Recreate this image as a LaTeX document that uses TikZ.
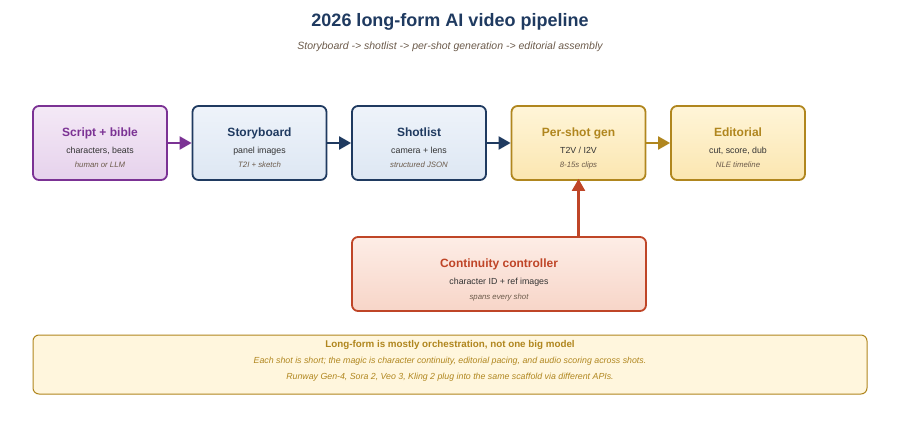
\documentclass[tikz,border=0pt]{standalone}
\usepackage{fontspec}
\setmainfont{Liberation Sans}
\usetikzlibrary{arrows.meta}
\definecolor{pur}{HTML}{7B3294}\definecolor{purA}{HTML}{F4E9F6}\definecolor{purB}{HTML}{E6D2EC}
\definecolor{nav}{HTML}{1F3A60}\definecolor{navA}{HTML}{EEF3FA}\definecolor{navB}{HTML}{DDE7F3}
\definecolor{gol}{HTML}{B0861E}\definecolor{golA}{HTML}{FFF5D8}\definecolor{golB}{HTML}{FBE6B0}
\definecolor{red}{HTML}{BF4527}\definecolor{redA}{HTML}{FDEDE6}\definecolor{redB}{HTML}{F7D5C8}
\definecolor{txt}{HTML}{333333}\definecolor{sub}{HTML}{6B5A4A}\definecolor{noteA}{HTML}{FFF6DD}
\tikzset{
 box/.style={draw=#1,line width=1.8pt,rounded corners=6pt,top color=#1A,bottom color=#1B,minimum width=134pt,minimum height=74pt},
 t/.style={text height=8pt,text depth=2pt,inner sep=0pt},
 ttl/.style={t,font=\fontsize{12}{12}\selectfont\bfseries},
 l2/.style={t,font=\fontsize{8.8}{9}\selectfont,text=txt},
 l3/.style={t,font=\fontsize{7.8}{8}\selectfont\itshape,text=sub},
 arr/.style={line width=2.2pt,-{Triangle[length=12pt,width=13pt]}}
}
\newcommand\mybox[7]{%
 \node[box=#3] (#1) at (#2,143) {};
 \node[ttl,text=#3] (#1t) at (#2,133) {#4};
 \node[l2] (#1a) at (#2,150) {#5};
 \node[l3] (#1b) at (#2,164) {#6};}
\begin{document}
\begin{tikzpicture}[x=1pt,y=-1pt]
\useasboundingbox (0,0) rectangle (900,442);
\node[t,font=\fontsize{18}{18}\selectfont\bfseries,text=nav,text height=13pt,text depth=4pt] (title) at (450,22) {2026 long-form AI video pipeline};
\node[t,font=\fontsize{10.5}{10}\selectfont\itshape,text=sub] (subt) at (450,46) {Storyboard -> shotlist -> per-shot generation -> editorial assembly};
\mybox{s}{100}{pur}{Script + bible}{characters, beats}{human or LLM}{}
\mybox{sb}{259.5}{nav}{Storyboard}{panel images}{T2I + sketch}{}
\mybox{sl}{419}{nav}{Shotlist}{camera + lens}{structured JSON}{}
\mybox{g}{578.5}{gol}{Per-shot gen}{T2V / I2V}{8-15s clips}{}
\mybox{e}{738}{gol}{Editorial}{cut, score, dub}{NLE timeline}{}
\node[box=red,minimum width=294pt] (c) at (499,274) {};
\node[ttl,text=red] (ct) at (499,264) {Continuity controller};
\node[l2] (ca) at (499,281) {character ID + ref images};
\node[l3] (cb) at (499,296) {spans every shot};
\draw[arr,pur] (s) -- (sb);
\draw[arr,nav] (sb) -- (sl);
\draw[arr,nav] (sl) -- (g);
\draw[arr,gol] (g) -- (e);
\draw[arr,red] (c.north -| g) -- ([yshift=2pt]g.south);
\node[draw=gol,line width=1pt,rounded corners=6pt,fill=noteA,minimum width=834pt,minimum height=59pt] (n) at (450,364.5) {};
\node[t,font=\fontsize{9.8}{9}\selectfont\bfseries,text=gol] (n1) at (450,344) {Long-form is mostly orchestration, not one big model};
\node[t,font=\fontsize{8.8}{8}\selectfont\itshape,text=gol] (n2) at (450,360) {Each shot is short; the magic is character continuity, editorial pacing, and audio scoring across shots.};
\node[t,font=\fontsize{8.8}{8}\selectfont\itshape,text=gol] (n3) at (450,376) {Runway Gen-4, Sora 2, Veo 3, Kling 2 plug into the same scaffold via different APIs.};
\end{tikzpicture}
\end{document}
